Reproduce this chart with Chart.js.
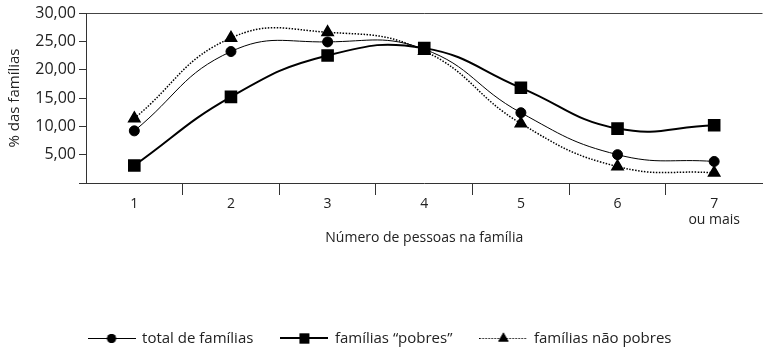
<!DOCTYPE html>
<html lang="pt">
<head>
<meta charset="utf-8">
<title>% das famílias por número de pessoas</title>
<script src="https://cdn.jsdelivr.net/npm/chart.js@4/dist/chart.umd.min.js"></script>
<style>
    html, body { margin: 0; padding: 0; background: #fff; }
    #grafico { width: 772px; height: 350px; }
</style>
</head>
<body>
<div id="grafico"><canvas id="familiasChart"></canvas></div>
<script>
// Dados do gráfico
const categorias = ['1', '2', '3', '4', '5', '6', ['7', 'ou mais']];
const totalFamilias = [9.2, 23.2, 24.9, 23.6, 12.4, 5.0, 3.8];
const familiasPobres = [3.1, 15.2, 22.5, 23.8, 16.8, 9.6, 10.2];
const familiasNaoPobres = [11.4, 25.6, 26.6, 23.3, 10.5, 2.9, 1.8];
const rotulosSeries = ['total de famílias', 'famílias \u201cpobres\u201d', 'famílias não pobres'];
const tituloX = 'Número de pessoas na família';
const tituloY = '% das famílias';

const fonte = "'Open Sans', 'Noto Sans', sans-serif";
const corTexto = '#222';

// Desenha o símbolo da legenda (linha + marcador) num canvas pequeno
function criarIcone(estilo, raio, espessura, tracejado) {
    const c = document.createElement('canvas');
    c.width = 48;
    c.height = 17;
    const ctx = c.getContext('2d');
    const meio = espessura % 2 === 1 ? 8.5 : 8;
    ctx.strokeStyle = '#000';
    ctx.lineWidth = espessura;
    ctx.setLineDash(tracejado);
    ctx.beginPath();
    ctx.moveTo(0, meio);
    ctx.lineTo(48, meio);
    ctx.stroke();
    ctx.setLineDash([]);
    ctx.fillStyle = '#000';
    Chart.helpers.drawPoint(ctx, { pointStyle: estilo, radius: raio, borderWidth: 0 }, 24, 8.5);
    ctx.fill();
    return c;
}

const icones = [
    criarIcone('circle', 4.5, 1, []),
    criarIcone('rect', 7, 2, []),
    criarIcone('triangle', 6, 1, [1.5, 1.5])
];

const ctx = document.getElementById('familiasChart').getContext('2d');
new Chart(ctx, {
    type: 'line',
    data: {
        labels: categorias,
        datasets: [
            {
                label: rotulosSeries[0],
                data: totalFamilias,
                borderColor: '#000',
                backgroundColor: '#000',
                borderWidth: 1,
                pointStyle: 'circle',
                pointRadius: 5,
                tension: 0.45
            },
            {
                label: rotulosSeries[1],
                data: familiasPobres,
                borderColor: '#000',
                backgroundColor: '#000',
                borderWidth: 2,
                pointStyle: 'rect',
                pointRadius: 7.5,
                tension: 0.45
            },
            {
                label: rotulosSeries[2],
                data: familiasNaoPobres,
                borderColor: '#000',
                backgroundColor: '#000',
                borderWidth: 1.5,
                borderDash: [1.5, 1.5],
                pointStyle: 'triangle',
                pointRadius: 6.5,
                tension: 0.45
            }
        ]
    },
    options: {
        responsive: true,
        maintainAspectRatio: false,
        animation: false,
        // padding negativo à esquerda só para centrar a legenda como no original
        layout: { padding: { left: -20, right: -8, top: 13, bottom: -6 } },
        scales: {
            x: {
                offset: true,
                grid: {
                    offset: true,
                    drawOnChartArea: false,
                    tickLength: 12,
                    tickColor: (c) => (c.index === 0 || c.index === undefined) ? 'rgba(0,0,0,0)' : '#333'
                },
                border: { display: true, color: '#333', width: 1 },
                ticks: {
                    padding: 1,
                    color: corTexto,
                    maxRotation: 0,
                    font: { family: fonte, size: 14, lineHeight: 1.15 }
                },
                title: {
                    display: true,
                    text: tituloX,
                    color: corTexto,
                    font: { family: fonte, size: 14 },
                    padding: { top: 0, bottom: 57 }
                }
            },
            y: {
                min: 0,
                max: 30,
                afterFit: (escala) => { escala.width = 106; },
                grid: {
                    tickLength: 7,
                    color: (c) => (c.tick && c.tick.value === 30) ? '#444' : 'rgba(0,0,0,0)',
                    tickColor: '#333'
                },
                border: { display: true, color: '#333', width: 1 },
                ticks: {
                    stepSize: 5,
                    padding: 3,
                    color: corTexto,
                    font: { family: fonte, size: 16 },
                    callback: function(valor) {
                        return valor === 0 ? '' : valor.toFixed(2).replace('.', ',');
                    }
                },
                title: {
                    display: true,
                    text: tituloY,
                    color: corTexto,
                    font: { family: fonte, size: 15 },
                    padding: { top: 26, bottom: 0 }
                }
            }
        },
        plugins: {
            tooltip: { enabled: false },
            legend: {
                position: 'bottom',
                labels: {
                    usePointStyle: true,
                    pointStyleWidth: 46,
                    padding: 28,
                    color: corTexto,
                    font: { family: fonte, size: 15 },
                    generateLabels: function(chart) {
                        const itens = Chart.defaults.plugins.legend.labels.generateLabels(chart);
                        itens.forEach((item, i) => { item.pointStyle = icones[i]; });
                        return itens;
                    }
                }
            }
        }
    }
});
</script>
</body>
</html>
